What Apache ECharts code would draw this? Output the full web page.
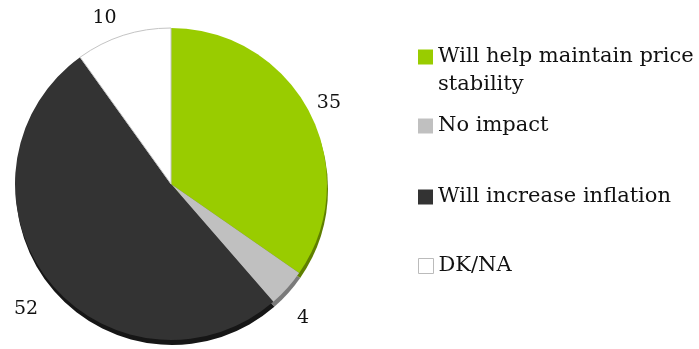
<!DOCTYPE html>
<html>
<head>
<meta charset="utf-8">
<script src="https://cdn.jsdelivr.net/npm/echarts@6/dist/echarts.min.js"></script>
<style>html,body{margin:0;padding:0;background:#fff}#c{width:699px;height:349px}</style>
</head>
<body>
<div id="c"></div>
<script>
const categories = ['Will help maintain price stability', 'No impact', 'Will increase inflation', 'DK/NA'];
const values = [35, 4, 52, 10];
const colors = ['#99cc00', '#c0c0c0', '#333333', '#ffffff'];
const rimColors = ['#5f7f00', '#7a7a7a', '#161616', '#d0d0d0'];
const labelOffsets = [[-8, -3], [-4, 22], [4, 21], [2, -6]];

const font = 'DejaVu Serif';
const chart = echarts.init(document.getElementById('c'));

const frontData = categories.map((n, i) => ({
  name: n, value: values[i],
  label: { offset: labelOffsets[i] },
  itemStyle: i === 3 ? { color: colors[i], borderColor: '#c4c4c4', borderWidth: 1 } : { color: colors[i] }
}));
const backData = categories.map((n, i) => ({ name: n, value: values[i], itemStyle: { color: rimColors[i] } }));

const legendTops = [15, 112, 183, 252];
const legends = categories.map((n, i) => ({
  data: [{ name: n, itemStyle: i === 3 ? { color: '#fff', borderColor: '#bbb', borderWidth: 1 } : { color: colors[i] } }],
  left: 418, top: legendTops[i], orient: 'vertical', padding: 0,
  itemWidth: 15, itemHeight: 15, selectedMode: false,
  icon: 'rect',
  formatter: nm => nm === 'Will help maintain price stability' ? ' \nWill help maintain price\nstability' : nm,
  textStyle: { fontFamily: font, fontSize: 21, color: '#111', lineHeight: 28 }
}));

chart.setOption({
  animation: false,
  backgroundColor: '#fff',
  legend: legends,
  series: [
    {
      type: 'pie', silent: true, radius: 156, center: [172, 189], clockwise: true, startAngle: 90,
      label: { show: false }, labelLine: { show: false }, data: backData, legendHoverLink: false
    },
    {
      type: 'pie', radius: 156, center: [171, 184], clockwise: true, startAngle: 90,
      label: { show: true, position: 'outside', formatter: '{c}', fontFamily: font, fontSize: 19, color: '#111', overflow: 'none', width: 40 },
      labelLine: { show: false, length: 12, length2: 0 },
      emphasis: { disabled: true },
      data: frontData
    }
  ]
});
</script>
</body>
</html>
